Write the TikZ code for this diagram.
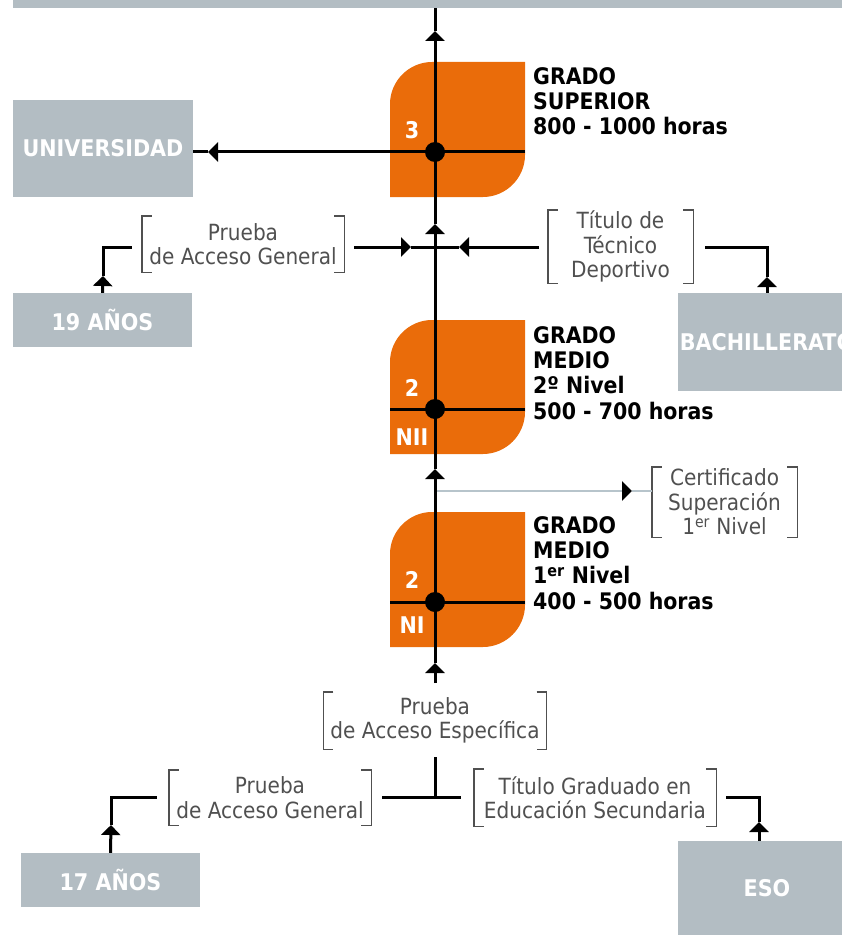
\documentclass[tikz,border=0pt]{standalone}
\usepackage{fontspec}
\setmainfont{DejaVu Sans Condensed}
\usepackage{tikz}
\usetikzlibrary{arrows.meta}
\definecolor{fporange}{HTML}{EA6C0A}
\definecolor{fpgray}{HTML}{B3BDC3}
\definecolor{brkgray}{HTML}{505050}
\definecolor{certgray}{HTML}{B7C4CB}
\begin{document}
\begin{tikzpicture}[x=1pt,y=-1pt]
		\tikzstyle{gbox} = [fill=fpgray, text=white, font=\fontsize{23}{25}\selectfont\bfseries, inner sep=0, text centered]
		\tikzstyle{brtext} = [inner sep=0, align=center, text=brkgray, font=\fontsize{22.3}{24.5}\selectfont]
		\tikzstyle{brk} = [draw=brkgray, line width=1.4]
		\tikzstyle{wire} = [draw, line width=3, black]
		\tikzstyle{tipline} = [-{Triangle[length=10pt,width=19pt]}, line width=3]
		\tikzstyle{certtip} = [-{Triangle[length=10pt,width=19pt,color=black]}, draw=certgray, line width=2.2]
		\tikzstyle{junction} = [shape=circle, fill=black, minimum size=20pt, inner sep=0]
		\tikzstyle{invisible} = [outer sep=0,inner sep=0,minimum size=0]
		\tikzstyle{grade} = [anchor=north west, align=left, inner sep=0, font=\fontsize{22.8}{25.3}\selectfont\bfseries]
		\tikzstyle{num} = [text=white, inner sep=0, font=\fontsize{23}{25}\selectfont\bfseries]
		\useasboundingbox (0,0) rectangle (842,936);
		\node [gbox, minimum width=837pt, minimum height=13pt] (v0) at (431.5,1.5) {};
		\node [gbox, minimum width=180pt, minimum height=97pt] (v1) at (103,148.5) {UNIVERSIDAD};
		\node [gbox, minimum width=179pt, minimum height=54pt] (v2) at (102.5,320) {19 AÑOS};
		\node [gbox, minimum width=178pt, minimum height=98pt] (v3) at (767,342) {BACHILLERATO};
		\node [gbox, minimum width=179pt, minimum height=54pt] (v4) at (110.5,880) {17 AÑOS};
		\node [gbox, minimum width=178pt, minimum height=94pt] (v5) at (767,888) {ESO};
		\fill [fporange] (390,197) -- (390,104) .. controls (390,81) and (409,62) .. (432,62) -- (525,62) -- (525,155) .. controls (525,178) and (506,197) .. (483,197) -- cycle;
		\fill [fporange] (390,454) -- (390,362) .. controls (390,339) and (409,320) .. (432,320) -- (525,320) -- (525,412) .. controls (525,435) and (506,454) .. (483,454) -- cycle;
		\fill [fporange] (390,647) -- (390,554) .. controls (390,531) and (409,512) .. (432,512) -- (525,512) -- (525,605) .. controls (525,628) and (506,647) .. (483,647) -- cycle;
		\node [num] (v6) at (412,130) {3};
		\node [num] (v7) at (412,388) {2};
		\node [num] (v8) at (412,437) {NII};
		\node [num] (v9) at (412,580) {2};
		\node [num] (v10) at (412,625) {NI};
		\node [grade] (v11) at (533,67) {GRADO\\SUPERIOR\\800 - 1000 horas};
		\node [grade] (v12) at (533,326) {GRADO\\MEDIO\\2º Nivel\\500 - 700 horas};
		\node [grade] (v13) at (533,516) {GRADO\\MEDIO\\1\textsuperscript{er} Nivel\\400 - 500 horas};
		\node [brtext, minimum width=202pt, minimum height=56pt] (v14) at (243,244) {Prueba\\de Acceso General};
		\node [brtext, minimum width=145pt, minimum height=73pt] (v15) at (620.5,246.5) {Título de\\Técnico\\Deportivo};
		\node [brtext, minimum width=145pt, minimum height=70pt] (v16) at (724.5,502) {Certificado\\Superación\\1\textsuperscript{er} Nivel};
		\node [brtext, minimum width=223pt, minimum height=57pt] (v17) at (435,720.5) {Prueba\\de Acceso Específica};
		\node [brtext, minimum width=202pt, minimum height=55pt] (v18) at (270,797.5) {Prueba\\de Acceso General};
		\node [brtext, minimum width=242pt, minimum height=57pt] (v19) at (595,797.5) {Título Graduado en\\Educación Secundaria};
		\draw [brk] ([xshift=10pt]v14.north west) -- (v14.north west) -- (v14.south west) -- ([xshift=10pt]v14.south west);
		\draw [brk] ([xshift=-10pt]v14.north east) -- (v14.north east) -- (v14.south east) -- ([xshift=-10pt]v14.south east);
		\draw [brk] ([xshift=10pt]v15.north west) -- (v15.north west) -- (v15.south west) -- ([xshift=10pt]v15.south west);
		\draw [brk] ([xshift=-10pt]v15.north east) -- (v15.north east) -- (v15.south east) -- ([xshift=-10pt]v15.south east);
		\draw [brk] ([xshift=10pt]v16.north west) -- (v16.north west) -- (v16.south west) -- ([xshift=10pt]v16.south west);
		\draw [brk] ([xshift=-10pt]v16.north east) -- (v16.north east) -- (v16.south east) -- ([xshift=-10pt]v16.south east);
		\draw [brk] ([xshift=10pt]v17.north west) -- (v17.north west) -- (v17.south west) -- ([xshift=10pt]v17.south west);
		\draw [brk] ([xshift=-10pt]v17.north east) -- (v17.north east) -- (v17.south east) -- ([xshift=-10pt]v17.south east);
		\draw [brk] ([xshift=10pt]v18.north west) -- (v18.north west) -- (v18.south west) -- ([xshift=10pt]v18.south west);
		\draw [brk] ([xshift=-10pt]v18.north east) -- (v18.north east) -- (v18.south east) -- ([xshift=-10pt]v18.south east);
		\draw [brk] ([xshift=10pt]v19.north west) -- (v19.north west) -- (v19.south west) -- ([xshift=10pt]v19.south west);
		\draw [brk] ([xshift=-10pt]v19.north east) -- (v19.north east) -- (v19.south east) -- ([xshift=-10pt]v19.south east);
		\coordinate (v20) at (435,683);
		\coordinate (v21) at (435,663);
		\coordinate (v22) at (435,469);
		\coordinate (v23) at (435,224);
		\coordinate (v24) at (435,31);
		\coordinate (v25) at (435,8);
		\draw [tipline] (v20) -- (v21);
		\draw [tipline] (v21) -- (v22);
		\draw [tipline] (v22) -- (v23);
		\draw [tipline] (v23) -- (v24);
		\draw [wire] (v24) -- (v25);
		\coordinate (v26) at (525,152);
		\coordinate (v27) at (208,152);
		\draw [tipline] (v26) -- (v27);
		\draw [wire] (v27) -- (v27 -| v1.east);
		\draw [wire] (390,409) -- (525,409);
		\draw [wire] (390,602) -- (525,602);
		\coordinate (v28) at (354,247);
		\coordinate (v29) at (411,247);
		\coordinate (v30) at (539,247);
		\coordinate (v31) at (459,247);
		\coordinate (v32) at (435,247);
		\draw [tipline] (v28) -- (v29);
		\draw [wire] (v29) -- (v32);
		\draw [tipline] (v30) -- (v31);
		\draw [wire] (v31) -- (v32);
		\coordinate (v33) at (132,247);
		\coordinate (v34) at (103,276);
		\draw [tipline] (v2.north) -- (v34);
		\draw [wire] (v34) |- (v33);
		\coordinate (v35) at (705,247);
		\coordinate (v36) at (767,277);
		\draw [tipline] (v3.north) -- (v36);
		\draw [wire] (v36) |- (v35);
		\coordinate (v37) at (437,491);
		\coordinate (v38) at (632,491);
		\draw [certtip] (v37) -- (v38);
		\draw [draw=certgray, line width=2.2] (v38) -- (v38 -| v16.west);
		\coordinate (v40) at (435,797);
		\coordinate (v41) at (382,797);
		\coordinate (v42) at (461,797);
		\draw [wire] ([yshift=-8pt]v17.south) -- (v40);
		\draw [wire] (v41) -- (v42);
		\coordinate (v43) at (157,797);
		\coordinate (v44) at (111,825);
		\draw [tipline] (v4.north) -- (v44);
		\draw [wire] (v44) |- (v43);
		\coordinate (v45) at (726,797);
		\coordinate (v46) at (759,822);
		\draw [tipline] ([xshift=-8pt]v5.north) -- (v46);
		\draw [wire] (v46) |- (v45);
		\node [junction] (v47) at (435,152) {};
		\node [junction] (v48) at (435,409) {};
		\node [junction] (v49) at (435,602) {};
\end{tikzpicture}
\end{document}
